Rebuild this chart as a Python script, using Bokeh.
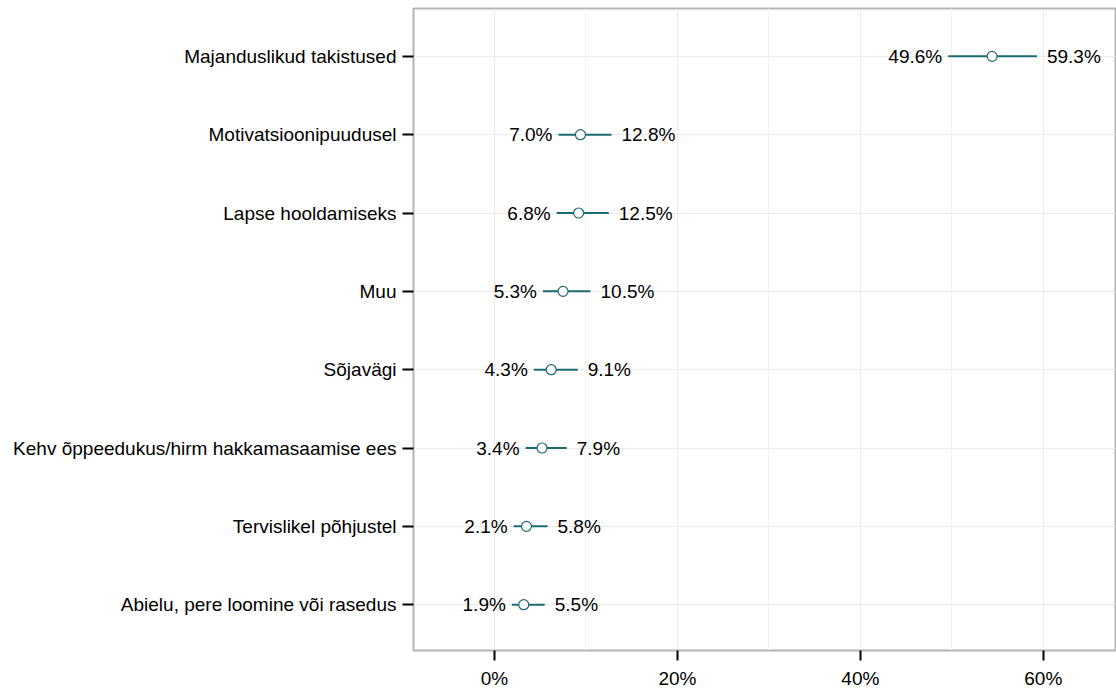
from bokeh.plotting import figure
from bokeh.models import ColumnDataSource, FixedTicker, Range1d
from bokeh.core.properties import value
from bokeh.embed import file_html
from bokeh.resources import INLINE

categories = ["Majanduslikud takistused", "Motivatsioonipuudusel", "Lapse hooldamiseks",
              "Muu", "Sõjavägi", "Kehv õppeedukus/hirm hakkamasaamise ees",
              "Tervislikel põhjustel", "Abielu, pere loomine või rasedus"]
lower = [49.6, 7.0, 6.8, 5.3, 4.3, 3.4, 2.1, 1.9]
upper = [59.3, 12.8, 12.5, 10.5, 9.1, 7.9, 5.8, 5.5]
estimate = [54.4, 9.4, 9.2, 7.5, 6.2, 5.2, 3.5, 3.2]
x_ticks = [0, 20, 40, 60]
x_tick_labels = ["0%", "20%", "40%", "60%"]

n = len(categories)
ypos = [n - i for i in range(n)]

src = ColumnDataSource(dict(
    y=ypos, lo=lower, hi=upper, est=estimate,
    lo_lab=[f"{v:.1f}%" for v in lower],
    hi_lab=[f"{v:.1f}%" for v in upper],
))

FONT = "Liberation Sans"
FS = "19px"
TEAL = "#1b6b73"

p = figure(width=1116, height=691, output_backend="svg", toolbar_location=None,
           x_range=Range1d(-8.85, 68.0), y_range=Range1d(0.415, n + 0.611),
           min_border_left=413, min_border_right=0, min_border_top=8, min_border_bottom=39)

p.background_fill_color = "white"
p.outline_line_color = "#b5b5b5"
p.outline_line_width = 2

# grids
p.xgrid.ticker = FixedTicker(ticks=x_ticks, minor_ticks=[-10, 10, 30, 50, 70])
p.xgrid.grid_line_color = "#ebebeb"
p.xgrid.minor_grid_line_color = "#f2f2f2"
p.ygrid.ticker = FixedTicker(ticks=ypos)
p.ygrid.grid_line_color = "#ebebeb"

# axes
p.xaxis.ticker = FixedTicker(ticks=x_ticks)
p.xaxis.major_label_overrides = {t: l for t, l in zip(x_ticks, x_tick_labels)}
p.yaxis.ticker = FixedTicker(ticks=ypos)
p.yaxis.major_label_overrides = {y: c for y, c in zip(ypos, categories)}
for ax in (p.xaxis, p.yaxis):
    ax.axis_line_color = None
    ax.major_tick_line_color = "black"
    ax.major_tick_line_width = 2
    ax.major_tick_out = 11
    ax.major_tick_in = 0
    ax.minor_tick_line_color = None
    ax.major_label_text_font = FONT
    ax.major_label_text_font_size = FS
    ax.major_label_text_color = "black"
p.xaxis.major_tick_out = 10
p.yaxis.major_label_standoff = 6
p.xaxis.major_label_standoff = 7

p.segment(x0="lo", x1="hi", y0="y", y1="y", source=src, line_color=TEAL, line_width=2)
p.scatter(x="est", y="y", source=src, size=10, fill_color="white", line_color=TEAL, line_width=1.2)

p.text(x="lo", y="y", text="lo_lab", source=src, x_offset=-6, text_align="right",
       text_baseline="middle", text_font=value(FONT), text_font_size=FS, text_color="black")
p.text(x="hi", y="y", text="hi_lab", source=src, x_offset=10, text_align="left",
       text_baseline="middle", text_font=value(FONT), text_font_size=FS, text_color="black")

open("out.html", "w").write(file_html(p, INLINE))
